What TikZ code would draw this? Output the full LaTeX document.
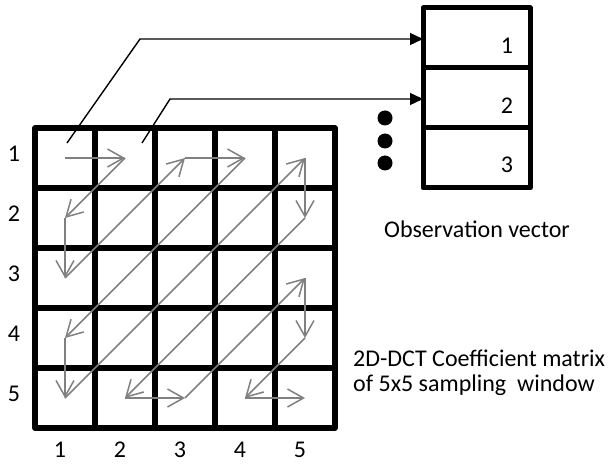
\documentclass[tikz,border=0pt]{standalone}
\usepackage{fontspec}
\setmainfont{Carlito}
\usetikzlibrary{arrows.meta}
\definecolor{arrgray}{RGB}{128,128,128}
\tikzset{
  cell/.style={draw=black, line width=5.5pt, minimum width=60pt, minimum height=60pt, inner sep=0pt, outer sep=0pt, line join=round},
  vcell/.style={draw=black, line width=5pt, minimum width=107pt, minimum height=60pt, inner sep=0pt, outer sep=0pt, line join=round},
  zig/.style={draw=arrgray, line width=1.5pt, -{Straight Barb[length=16pt,width=18pt,line width=1.5pt]}},
  feed/.style={draw=black, line width=1.4pt, -{Triangle[length=13pt,width=12pt]}},
  lbl/.style={font=\fontsize{24}{25}\selectfont, inner sep=0pt},
  dotc/.style={circle, fill=black, minimum size=15pt, inner sep=0pt}
}
\begin{document}
\begin{tikzpicture}[x=1pt,y=-1pt]
\useasboundingbox (0,0) rectangle (613,465);
% matrix cells
\foreach \r in {1,...,5}{
  \foreach \c in {1,...,5}{
    \node[cell] (c\r\c) at ({65+60*(\c-1)},{158+60*(\r-1)}) {};
  }
}
% row labels
\foreach \r in {1,...,5}{
  \node[lbl] (r\r) at (14,{154+60*(\r-1)}) {\r};
}
% column labels
\foreach \c in {1,...,5}{
  \node[lbl] (k\c) at ({60+60*(\c-1)},450) {\c};
}
% zigzag arrows
\draw[zig] (c11.center) -- (c12.center);
\draw[zig] (c12.center) -- (c21.center);
\draw[zig] (c21.center) -- (c31.center);
\draw[zig] (c31.center) -- (c13.center);
\draw[zig] (c13.center) -- (c14.center);
\draw[zig] (c14.center) -- (c41.center);
\draw[zig] (c41.center) -- (c51.center);
\draw[zig] (c51.center) -- (c15.center);
\draw[zig] (c15.center) -- (c25.center);
\draw[zig] (c25.center) -- (c52.center);
\draw[zig] (c52.center) -- (c53.center);
\draw[zig] (c53.center) -- (c35.center);
\draw[zig] (c35.center) -- (c45.center);
\draw[zig] (c45.center) -- (c54.center);
\draw[zig] (c54.center) -- (c55.center);
% observation vector
\node[vcell] (v1) at (476.5,38) {};
\node[vcell] (v2) at (476.5,98) {};
\node[vcell] (v3) at (476.5,158) {};
\node[lbl] (n1) at (507,46) {1};
\node[lbl] (n2) at (507,106) {2};
\node[lbl] (n3) at (507,165) {3};
% dots
\node[dotc] (d1) at (385,118) {};
\node[dotc] (d2) at (385,141) {};
\node[dotc] (d3) at (385,163) {};
% feed lines
\coordinate (s1) at (67,143);
\coordinate (b1) at (140,39);
\coordinate (s2) at (142,143);
\coordinate (b2) at (170,99);
\draw[feed] (s1) -- (b1) -- (b1 -| v1.west);
\draw[feed] (s2) -- (b2) -- (b2 -| v2.west);
% captions
\node[lbl, anchor=center] (obs) at (477,229) {Observation vector};
\node[lbl, anchor=west, align=left] (cap) at (353,373) {2D-DCT Coefficient matrix\\of 5x5 sampling \ window};
\end{tikzpicture}
\end{document}
